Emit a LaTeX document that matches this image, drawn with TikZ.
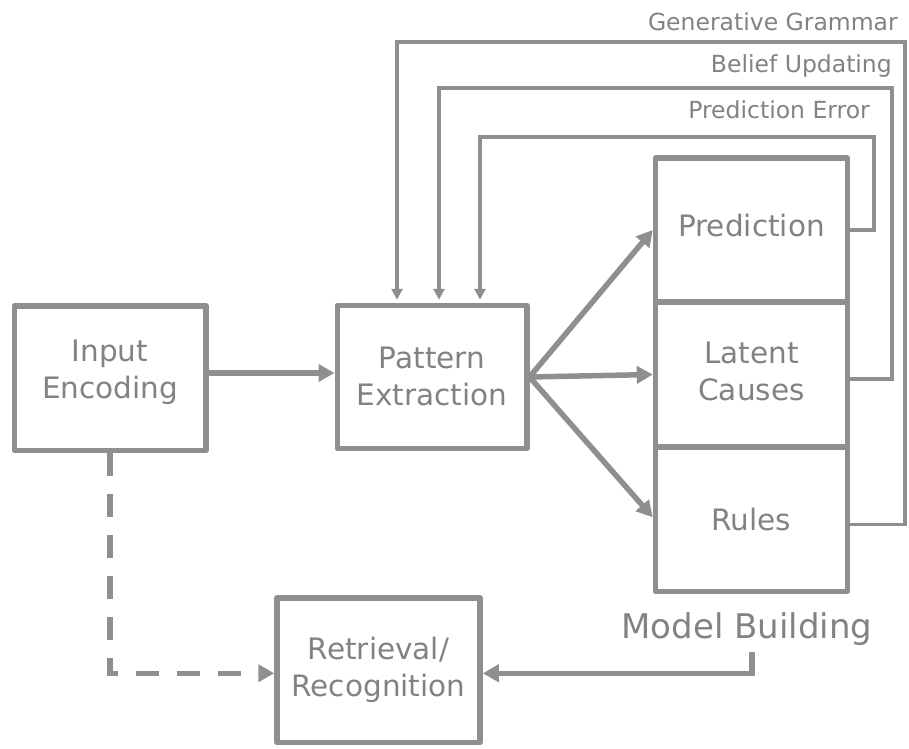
\documentclass[tikz,border=0pt]{standalone}
\usepackage{fontspec}
\setmainfont{DejaVu Sans}
\usetikzlibrary{arrows.meta}
\definecolor{lc}{RGB}{143,143,143}
\definecolor{tc}{RGB}{130,130,130}
\newcommand{\dropby}[1]{\rule[-#1]{0pt}{#1}}
\begin{document}
\begin{tikzpicture}[x=1pt,y=-1pt,
  box/.style={draw=lc, line width=5.5pt, line join=round, inner sep=0pt, text=tc, align=center,
    font=\fontsize{29.5}{37}\selectfont},
  main/.style={draw=lc, line width=5.5pt, -{Triangle[length=16pt,width=17pt]}},
  fb/.style={draw=lc, line width=3.2pt, shorten >=3pt, -{Triangle[length=11pt,width=11pt]}},
  lbl/.style={text=tc, inner sep=0pt, font=\fontsize{23.5}{28}\selectfont}
]
\useasboundingbox (0,0) rectangle (909,748);

% boxes
\node[box, minimum width=191.5pt, minimum height=144.5pt] (inp) at (110,378) {Input\\Encoding\dropby{18pt}};
\node[box, minimum width=189.5pt, minimum height=143pt] (pat) at (432,377) {Pattern\\Extraction\dropby{2pt}};
\node[box, minimum width=192pt, minimum height=144pt] (pred) at (751.5,230) {Prediction\dropby{9pt}};
\node[box, minimum width=192pt, minimum height=145pt] (lat) at (751.5,374.5) {Latent\\Causes\dropby{7pt}};
\node[box, minimum width=192pt, minimum height=144.5pt] (rul) at (751.5,519.25) {Rules};
\node[box, minimum width=203pt, minimum height=144.5pt] (ret) at (378.5,670.25) {Retrieval/\\Recognition};

% labels
\node[lbl, font=\fontsize{34}{40}\selectfont, anchor=base] (mb) at (747,638) {Model Building};
\node[lbl, anchor=base east] (gg) at (898,30) {Generative Grammar};
\node[lbl, anchor=base east] (bu) at (892,72) {Belief Updating};
\node[lbl, anchor=base east] (pe) at (870,118) {Prediction Error};

% feedback corner points
\coordinate (gR) at (905,42);
\coordinate (gL) at (397,42);
\coordinate (bR) at (892,88);
\coordinate (bL) at (439,88);
\coordinate (pR) at (874,137);
\coordinate (pL) at (480,137);

% main arrows
\draw[main] ([yshift=5pt]inp.east) -- ([yshift=5pt]inp.east -| pat.west);
\draw[main] (pat.east) -- (pred.west);
\draw[main] (pat.east) -- (lat.west);
\draw[main] (pat.east) -- ([yshift=2pt]rul.west);
\draw[main, dash pattern=on 23pt off 18pt] (inp.south) |- ([yshift=-3pt]ret.west);
\draw[main] ([xshift=5pt,yshift=-7pt]mb.south) |- ([yshift=-3pt]ret.east);

% feedback loops
\draw[fb] (pred.east) -| (pR) -| (pL |- pat.north);
\draw[fb] ([yshift=-4.5pt]lat.east) -| (bR) -| (bL |- pat.north);
\draw[fb] ([yshift=-5pt]rul.east) -| (gR) -| (gL |- pat.north);
\end{tikzpicture}
\end{document}
